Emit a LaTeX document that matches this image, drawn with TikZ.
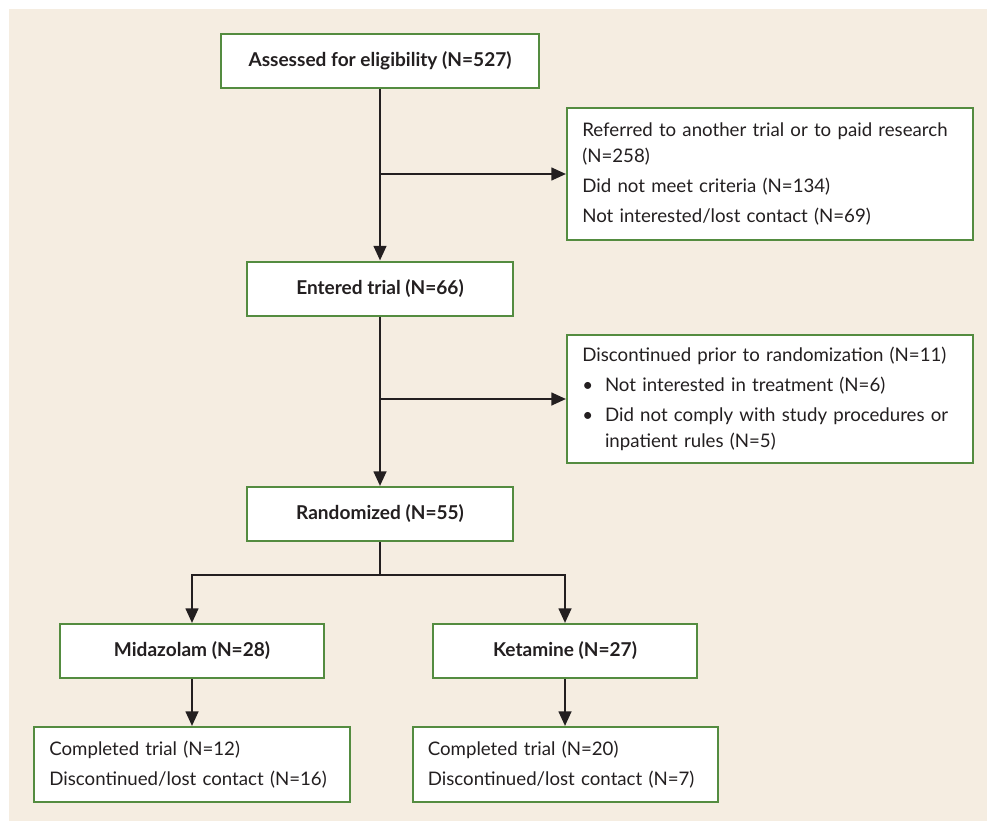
\documentclass[tikz,border=0pt]{standalone}
\usepackage{fontspec}
\setmainfont{Lato}
\usetikzlibrary{arrows.meta}
\definecolor{panel}{HTML}{F5EDE1}
\definecolor{boxgreen}{HTML}{548C40}
\definecolor{ink}{HTML}{231F20}

\begin{document}
\begin{tikzpicture}[x=0.75pt,y=-0.75pt,
    box/.style={draw=boxgreen,line width=1.5pt,fill=white,text=ink,font=\fontsize{14.3}{16}\selectfont\bfseries,minimum height=40.5pt},
    listbox/.style={draw=boxgreen,line width=1.5pt,fill=white,text=ink,align=left,inner xsep=11.5pt,font=\fontsize{14}{19.5}\selectfont},
    arr/.style={draw=ink,line width=1.8pt,-{Triangle[length=11pt,width=9.5pt]}}]
    \useasboundingbox (0,0) rectangle (987,821);
    \fill[white] (0,0) rectangle (987,821);
    \fill[panel] (9,9) rectangle (987,821);
    % main column
    \node[box,minimum width=238.5pt] (assess) at (380,61) {Assessed for eligibility (N=527)};
    \node[box,minimum width=199.5pt] (enter) at (380,288.5) {Entered trial (N=66)};
    \node[box,minimum width=199.5pt] (rand) at (380,514) {Randomized (N=55)};
    \node[box,minimum width=198pt] (mid) at (192,651) {Midazolam (N=28)};
    \node[box,minimum width=198pt] (ket) at (565,651) {Ketamine (N=27)};
    % side boxes
    \node[listbox,text width=281.5pt,minimum height=99pt] (refer) at (770,174) {Referred to another trial or to paid research\\(N=258)\\[3pt]
        Did not meet criteria (N=134)\\[3pt]
        Not interested/lost contact (N=69)};
    \node[listbox,text width=281.5pt,minimum height=96pt] (disc) at (770,399) {Discontinued prior to randomization (N=11)\\[3pt]
        \makebox[17pt][l]{\textbullet}Not interested in treatment (N=6)\\[3pt]
        \makebox[17pt][l]{\textbullet}Did not comply with study procedures or\\
        \hspace*{17pt}inpatient rules (N=5)};
    \node[listbox,text width=214pt,minimum height=56.25pt] (compl) at (192,764.5) {Completed trial (N=12)\\[3pt]
        Discontinued/lost contact (N=16)};
    \node[listbox,text width=205.75pt,minimum height=56.25pt] (compr) at (565,764.5) {Completed trial (N=20)\\[3pt]
        Discontinued/lost contact (N=7)};
    \coordinate (split) at (380,575);
    % arrows
    \draw[arr] (assess) -- (enter);
    \draw[arr] (assess |- refer) -- (refer);
    \draw[arr] (enter) -- (rand);
    \draw[arr] (enter |- disc) -- (disc);
    \draw[draw=ink,line width=1.8pt] (rand) -- (split);
    \draw[arr] (split) -| (mid);
    \draw[arr] (split) -| (ket);
    \draw[arr] (mid) -- (compl);
    \draw[arr] (ket) -- (compr);
\end{tikzpicture}
\end{document}
